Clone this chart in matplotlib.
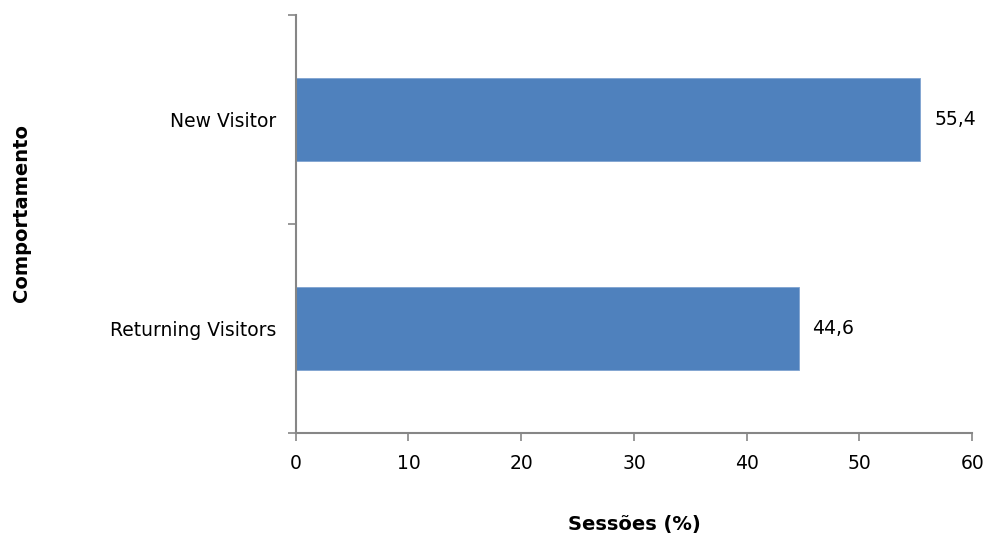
import matplotlib
matplotlib.use("Agg")
import matplotlib.pyplot as plt

categories = ["Returning Visitors", "New Visitor"]
sessions_pct = [44.6, 55.4]
value_labels = ["44,6", "55,4"]
x_ticks = [0, 10, 20, 30, 40, 50, 60]

bar_color = "#4F81BD"
axis_gray = "#868686"

fig = plt.figure(figsize=(9.89, 5.38), dpi=100)
ax = fig.add_axes([0.299, 0.195, 0.684, 0.777])

pos = list(range(len(categories)))
ax.barh(pos, sessions_pct, height=0.4, color=bar_color, edgecolor="#7FA3D0", linewidth=0.6)

for p, v, lab in zip(pos, sessions_pct, value_labels):
    ax.annotate(lab, xy=(v, p), xytext=(10, 0), textcoords="offset points",
                ha="left", va="center", fontsize=13.5)

ax.set_xlim(0, 60)
ax.set_ylim(-0.5, len(categories) - 0.5)
ax.set_xticks(x_ticks)
ax.set_xticklabels([str(t) for t in x_ticks], fontsize=13.5)

# category boundaries get tick marks, labels sit between them
ax.set_yticks([-0.5, 0.5, 1.5])
ax.set_yticklabels([])
ax.set_yticks(pos, minor=True)
ax.set_yticklabels(categories, minor=True, fontsize=13.5)
ax.tick_params(axis="y", which="minor", length=0, pad=14)
ax.tick_params(axis="y", which="major", length=6, color=axis_gray, width=1.2)
ax.tick_params(axis="x", length=6, color=axis_gray, width=1.2, pad=9)

for side in ["top", "right"]:
    ax.spines[side].set_visible(False)
for side in ["left", "bottom"]:
    ax.spines[side].set_color(axis_gray)
    ax.spines[side].set_linewidth(1.5)

ax.set_xlabel("Sessões (%)", fontsize=14, fontweight="bold", labelpad=30)
fig.text(0.022, 0.604, "Comportamento", rotation=90, ha="center", va="center",
         fontsize=14, fontweight="bold")

fig.savefig("out.png", dpi=100)
